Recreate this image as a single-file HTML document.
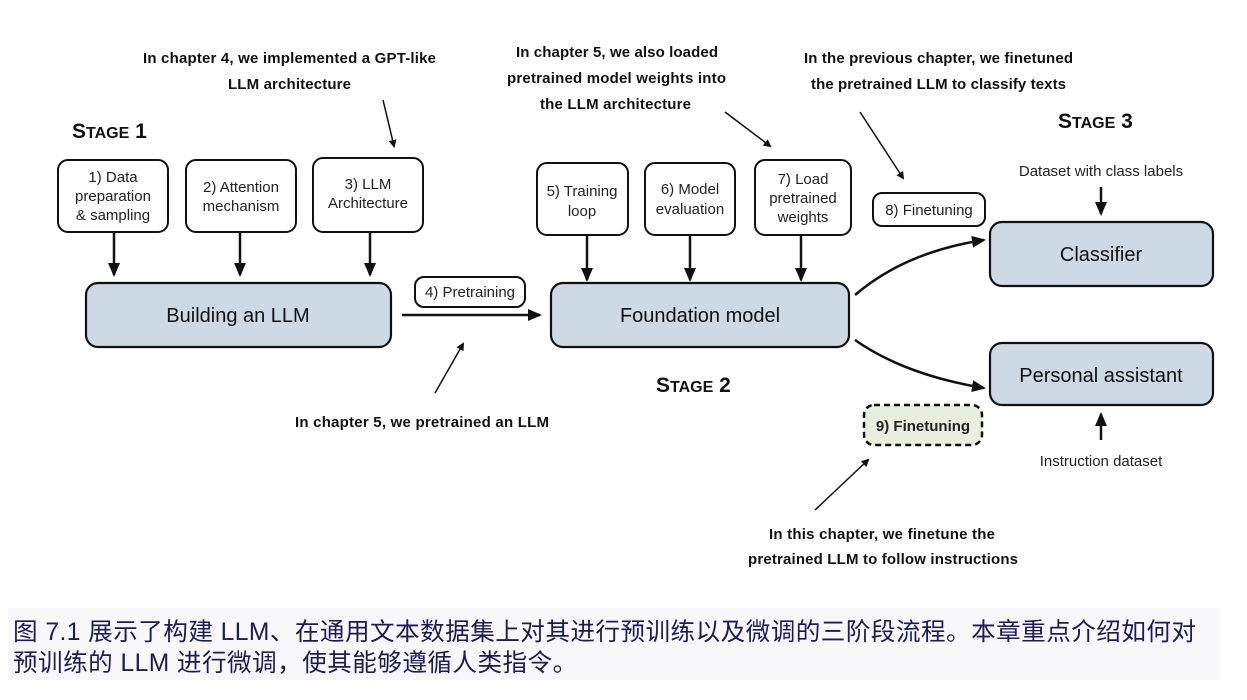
<!DOCTYPE html>
<html><head><meta charset="utf-8"><style>
body{margin:0;background:#fff;width:1247px;height:700px;overflow:hidden}
svg{position:absolute;left:0;top:0}
.cap{position:absolute;left:8px;top:608px;width:1212px;height:72px;background:#f8f8fa;color:#1c1c55;font-family:"Liberation Sans","Noto Sans CJK SC",sans-serif;font-size:24.6px;letter-spacing:0.45px;line-height:31px;padding:9px 0 0 5px;box-sizing:border-box;white-space:nowrap}
</style></head><body>
<svg width="1247" height="700" font-family="Liberation Sans, sans-serif">
<defs><marker id="a" markerWidth="8" markerHeight="8" refX="6" refY="4" orient="auto" markerUnits="userSpaceOnUse"><path d="M0,0L8,4L0,8z" fill="#111"/></marker>
<marker id="b" markerWidth="14" markerHeight="12" refX="12" refY="6" orient="auto" markerUnits="userSpaceOnUse"><path d="M0,0L14,6L0,12z" fill="#111"/></marker></defs>
<g font-weight="bold" font-size="15" fill="#111" text-anchor="start">
<text x="143" y="63" textLength="293">In chapter 4, we implemented a GPT-like</text>
<text x="228" y="89" textLength="123">LLM architecture</text>
<text x="516" y="57" textLength="202">In chapter 5, we also loaded</text>
<text x="507" y="83" textLength="219">pretrained model weights into</text>
<text x="540" y="109" textLength="151">the LLM architecture</text>
<text x="804" y="63" textLength="269">In the previous chapter, we finetuned</text>
<text x="811" y="89" textLength="255">the pretrained LLM to classify texts</text>
<text x="295" y="427" textLength="254">In chapter 5, we pretrained an LLM</text>
<text x="769" y="539" textLength="226">In this chapter, we finetune the</text>
<text x="748" y="564" textLength="270">pretrained LLM to follow instructions</text>
</g>
<g font-weight="bold" fill="#111">
<text x="72" y="138" font-size="21">S<tspan font-size="16">TAGE</tspan> 1</text>
<text x="656" y="392" font-size="21">S<tspan font-size="16">TAGE</tspan> 2</text>
<text x="1058" y="128" font-size="21">S<tspan font-size="16">TAGE</tspan> 3</text>
</g>
<g stroke="#111" stroke-width="1.5" fill="none">
<line x1="383" y1="100" x2="394" y2="146" marker-end="url(#a)"/>
<line x1="725" y1="112" x2="770" y2="146" marker-end="url(#a)"/>
<line x1="860" y1="112" x2="903" y2="178" marker-end="url(#a)"/>
<line x1="435" y1="393" x2="463" y2="344" marker-end="url(#a)"/>
<line x1="815" y1="510" x2="868" y2="460" marker-end="url(#a)"/>
</g>
<g stroke="#111" stroke-width="2" fill="#fff">
<rect x="58" y="160" width="110" height="72" rx="10"/>
<rect x="186" y="160" width="110" height="72" rx="10"/>
<rect x="313" y="158" width="110" height="74" rx="10"/>
<rect x="537" y="163" width="91" height="72" rx="10"/>
<rect x="645" y="163" width="90" height="72" rx="10"/>
<rect x="755" y="160" width="96" height="75" rx="10"/>
<rect x="415" y="277" width="110" height="30" rx="9"/>
<rect x="873" y="193" width="112" height="33" rx="9"/>
<rect x="864" y="405" width="118" height="40" rx="10" fill="#e9efdf" stroke-dasharray="6,4" stroke-width="2.5"/>
</g>
<g stroke="#111" stroke-width="2.2" fill="#ced9e6">
<rect x="86" y="283" width="305" height="64" rx="12"/>
<rect x="551" y="283" width="298" height="64" rx="12"/>
<rect x="990" y="222" width="223" height="64" rx="12"/>
<rect x="990" y="343" width="223" height="62" rx="12"/>
</g>
<g stroke="#111" stroke-width="2.5" fill="none">
<line x1="114" y1="232" x2="114" y2="275" marker-end="url(#b)"/>
<line x1="240" y1="232" x2="240" y2="275" marker-end="url(#b)"/>
<line x1="370" y1="232" x2="370" y2="275" marker-end="url(#b)"/>
<line x1="587" y1="235" x2="587" y2="280" marker-end="url(#b)"/>
<line x1="690" y1="235" x2="690" y2="280" marker-end="url(#b)"/>
<line x1="801" y1="235" x2="801" y2="280" marker-end="url(#b)"/>
<line x1="402" y1="315" x2="540" y2="315" marker-end="url(#b)"/>
<line x1="1101" y1="187" x2="1101" y2="214" marker-end="url(#b)"/>
<line x1="1101" y1="440" x2="1101" y2="414" marker-end="url(#b)"/>
<path d="M855,295 Q905,252 984,240" marker-end="url(#b)"/>
<path d="M855,340 Q905,375 984,388" marker-end="url(#b)"/>
</g>
<g font-size="15" fill="#222" text-anchor="middle">
<text x="113" y="182">1) Data</text><text x="113" y="201">preparation</text><text x="113" y="220">&amp; sampling</text>
<text x="241" y="192">2) Attention</text><text x="241" y="211">mechanism</text>
<text x="368" y="189">3) LLM</text><text x="368" y="208">Architecture</text>
<text x="582" y="196">5) Training</text><text x="582" y="216">loop</text>
<text x="690" y="194">6) Model</text><text x="690" y="214">evaluation</text>
<text x="803" y="184">7) Load</text><text x="803" y="203">pretrained</text><text x="803" y="222">weights</text>
<text x="470" y="297">4) Pretraining</text>
<text x="929" y="215">8) Finetuning</text>
<text x="1101" y="176">Dataset with class labels</text>
<text x="1101" y="466">Instruction dataset</text>
<text x="923" y="431" font-weight="bold">9) Finetuning</text>
</g>
<g font-size="20" fill="#111" text-anchor="middle">
<text x="238" y="322">Building an LLM</text>
<text x="700" y="322">Foundation model</text>
<text x="1101" y="261">Classifier</text>
<text x="1101" y="382">Personal assistant</text>
</g>
</svg>
<div class="cap">图 7.1 展示了构建 LLM、在通用文本数据集上对其进行预训练以及微调的三阶段流程。本章重点介绍如何对<br>预训练的 LLM 进行微调，使其能够遵循人类指令。</div>
</body></html>
